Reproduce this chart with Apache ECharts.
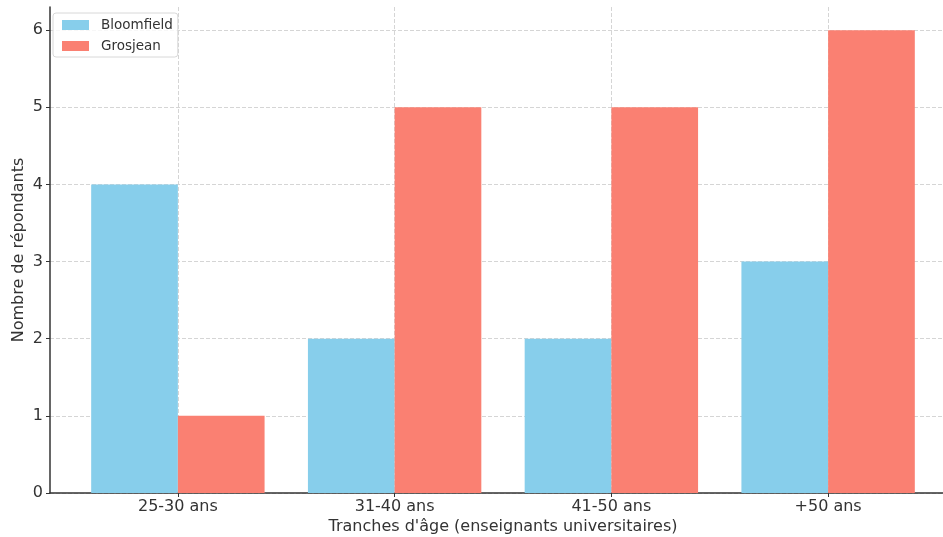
<!DOCTYPE html>
<html><head><meta charset="utf-8">
<script src="https://cdn.jsdelivr.net/npm/echarts@6/dist/echarts.min.js"></script>
<style>html,body{margin:0;padding:0;background:#fff}#c{width:943px;height:537px}</style>
</head><body><div id="c"></div>
<script>
const categories = ['25-30 ans', '31-40 ans', '41-50 ans', '+50 ans'];
const bloomfield = [4, 2, 2, 3];
const grosjean = [1, 5, 5, 6];
const yTicks = [0, 1, 2, 3, 4, 5, 6];

const idx = categories.map((_, i) => i);
const chart = echarts.init(document.getElementById('c'));
const font = 'DejaVu Sans';
chart.setOption({
  animation: false,
  textStyle: { fontFamily: font },
  grid: { left: 50, top: 7, width: 906, height: 486, containLabel: false, outerBoundsMode: 'none' },
  legend: {
    left: 53, top: 13, orient: 'vertical', itemWidth: 27, itemHeight: 10, itemGap: 7,
    icon: 'rect',
    padding: [5, 5, 4, 9], borderColor: '#d8d8d8', borderWidth: 1, borderRadius: 3,
    backgroundColor: 'rgba(255,255,255,0.8)',
    textStyle: { fontSize: 13.5, color: '#333', fontFamily: font, padding: [0, 0, 0, 7] },
    data: ['Bloomfield', 'Grosjean']
  },
  xAxis: {
    type: 'value', min: -0.59, max: 3.59,
    name: "Tranches d'âge (enseignants universitaires)", nameLocation: 'middle', nameGap: 26,
    nameMoveOverlap: false,
    nameTextStyle: { fontSize: 16, color: '#333', fontFamily: font },
    axisLine: { show: true, onZero: false, lineStyle: { color: '#333', width: 1.5 } },
    axisTick: { show: true, customValues: idx, length: 4, lineStyle: { color: '#333' } },
    axisLabel: { customValues: idx, formatter: v => categories[Math.round(v)], fontSize: 16, color: '#333', margin: 6 },
    splitLine: { show: true, lineStyle: { type: 'dashed', color: '#d5d5d5', width: 1 } }
  },
  yAxis: {
    type: 'value', min: 0, max: 6.3,
    name: 'Nombre de répondants', nameLocation: 'middle', nameGap: 23,
    nameMoveOverlap: false,
    nameTextStyle: { fontSize: 16, color: '#333', fontFamily: font },
    axisLine: { show: true, onZero: false, lineStyle: { color: '#333', width: 1.5 } },
    axisTick: { show: true, customValues: yTicks, length: 4, lineStyle: { color: '#333' } },
    axisLabel: { customValues: yTicks, fontSize: 16, color: '#333', margin: 7 },
    splitLine: { show: true, lineStyle: { type: 'dashed', color: '#d5d5d5', width: 1 } }
  },
  series: [
    { name: 'Bloomfield', type: 'bar', data: idx.map(i => [i, bloomfield[i]]), barWidth: '40%', barGap: '0%',
      itemStyle: { color: '#87CEEB' } },
    { name: 'Grosjean', type: 'bar', data: idx.map(i => [i, grosjean[i]]), barWidth: '40%', barGap: '0%',
      itemStyle: { color: '#FA8072' } }
  ]
});
</script></body></html>
